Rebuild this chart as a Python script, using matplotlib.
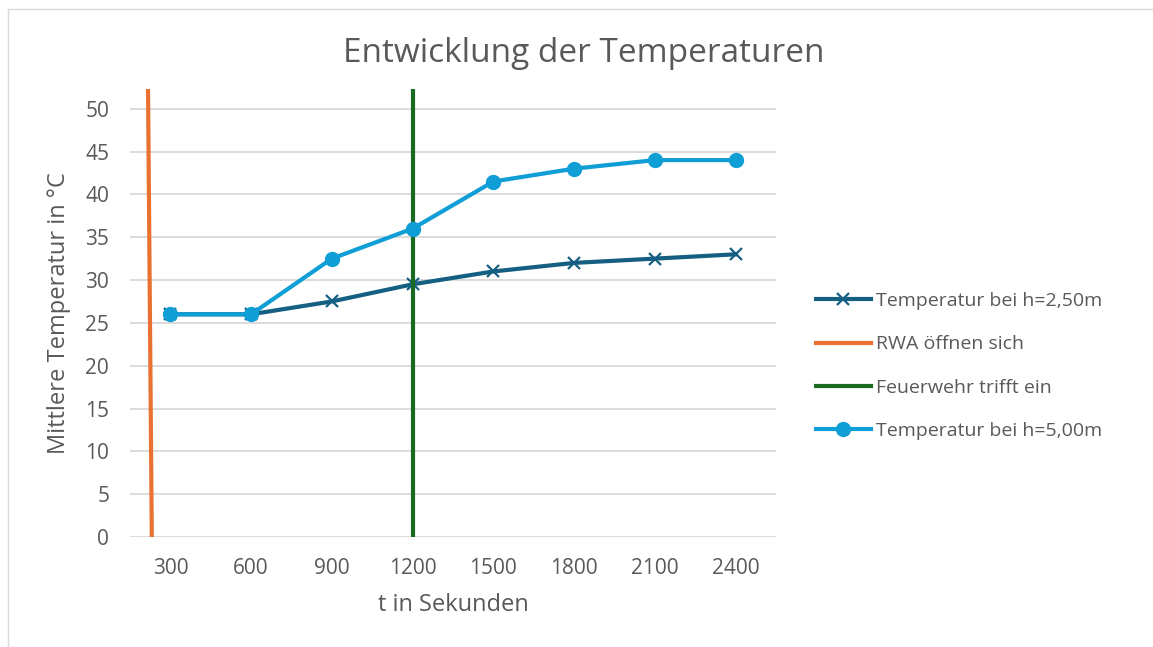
import matplotlib.pyplot as plt
from matplotlib.lines import Line2D

plt.rcParams['font.family'] = ['Open Sans', 'DejaVu Sans']

zeit = [300, 600, 900, 1200, 1500, 1800, 2100, 2400]
temp_250 = [26, 26, 27.5, 29.5, 31, 32, 32.5, 33]
temp_500 = [26, 26, 32.5, 36, 41.5, 43, 44, 44]

# Ereignislinien (x in Sekunden, y in °C)
rwa_x = [217, 231]
rwa_y = [52.3, 0]
feuerwehr_x = [1200, 1200]
feuerwehr_y = [52.3, 0]

grau = '#595959'

fig = plt.figure(figsize=(11.53, 6.47), dpi=100)
ax = fig.add_axes([130 / 1153, 1 - 537 / 647, 646 / 1153, 448 / 647])

ax.plot(zeit, temp_250, color='#156082', lw=3, marker='x', ms=9, mew=1.6,
        label='Temperatur bei h=2,50m', zorder=3)
ax.plot(rwa_x, rwa_y, color='#E97132', lw=3, label='RWA öffnen sich', zorder=4)
ax.plot(feuerwehr_x, feuerwehr_y, color='#196B24', lw=3,
        label='Feuerwehr trifft ein', zorder=5)
ax.plot(zeit, temp_500, color='#0F9ED5', lw=3, marker='o', ms=10,
        label='Temperatur bei h=5,00m', zorder=6)

ax.set_xlim(150, 2550)
ax.set_ylim(0, 52.3)
ax.set_xticks(zeit)
ax.set_yticks(range(0, 51, 5))
ax.grid(axis='y', color='#D9D9D9', lw=1.3)
ax.set_axisbelow(True)
for s in ax.spines.values():
    s.set_visible(False)
ax.tick_params(length=0, labelsize=15, labelcolor=grau)
ax.tick_params(axis='x', pad=15)
ax.tick_params(axis='y', pad=15)

ax.set_xlabel('t in Sekunden', fontsize=17, color=grau, labelpad=10)
ax.set_ylabel('Mittlere Temperatur in °C', fontsize=17, color=grau, labelpad=10)
fig.text(0.506, 1 - 54 / 647, 'Entwicklung der Temperaturen', fontsize=24,
         color=grau, ha='center', va='center')

ax.legend(loc='center left', bbox_to_anchor=(798 / 1153, 1 - 366 / 647),
          bbox_transform=fig.transFigure, frameon=False, fontsize=14,
          labelcolor=grau, handlelength=2.85, handletextpad=0.25,
          labelspacing=1.3)

# dünner Rahmen oben und links
fig.add_artist(Line2D([8 / 1153, 8 / 1153], [0, 1 - 9 / 647],
                      transform=fig.transFigure, color='#D9D9D9', lw=1))
fig.add_artist(Line2D([8 / 1153, 1], [1 - 9 / 647, 1 - 9 / 647],
                      transform=fig.transFigure, color='#D9D9D9', lw=1))

fig.savefig('out.png', dpi=100)
